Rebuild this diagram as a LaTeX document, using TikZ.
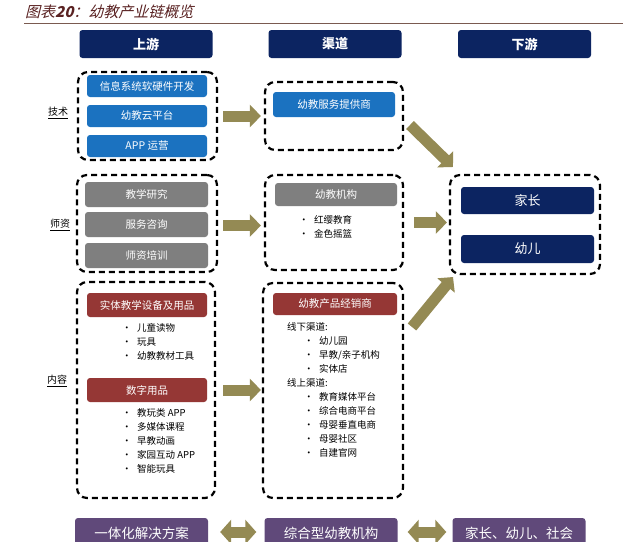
\documentclass[tikz,border=0pt]{standalone}
\usepackage{fontspec}
\setmainfont{Noto Sans CJK SC}
\newfontfamily\titlefont[FakeSlant=0.25]{Noto Sans CJK SC}
\usetikzlibrary{arrows.meta}
\definecolor{navy}{HTML}{0C2461}
\definecolor{bluebx}{HTML}{1B72C0}
\definecolor{graybx}{HTML}{7F7F7F}
\definecolor{redbx}{HTML}{953735}
\definecolor{purplebx}{HTML}{60497A}
\definecolor{olivec}{HTML}{948A54}
\definecolor{titlec}{HTML}{5A2222}
\definecolor{rulec}{HTML}{7A5A50}
\tikzset{
  box/.style={rounded corners=3pt, inner sep=0pt, text=white, font=\fontsize{10.5}{12}\selectfont},
  hdr/.style={box, fill=navy, minimum width=133pt, minimum height=28pt, font=\fontsize{13}{15}\selectfont\bfseries},
  bluebox/.style={box, fill=bluebx},
  graybox/.style={box, fill=graybx},
  redbox/.style={box, fill=redbx},
  navybox/.style={box, fill=navy, font=\fontsize{13}{15}\selectfont},
  purplebox/.style={box, fill=purplebx, minimum width=133pt, minimum height=30pt, font=\fontsize{13.5}{16}\selectfont},
  grp/.style={draw=black, line width=2.2pt, dash pattern=on 6pt off 4pt, rounded corners=10pt, inner sep=0pt},
  sidelabel/.style={font=\fontsize{10}{12}\selectfont, inner sep=0pt},
  blist/.style={anchor=north west, align=left, inner sep=0pt, font=\fontsize{9.5}{14}\selectfont},
  bigarrow/.style={draw=olivec, line width=11pt, -{Triangle[width=22pt,length=11pt]}},
  dblarrow/.style={draw=olivec, line width=11pt, {Triangle[width=24pt,length=11pt]}-{Triangle[width=24pt,length=11pt]}},
}
\newcommand{\bl}{\makebox[15pt][l]{\textbullet}}
\begin{document}
\begin{tikzpicture}[x=1pt,y=-1pt]
\useasboundingbox (0,0) rectangle (640,541);
\clip (0,0) rectangle (640,541);
\fill[white] (0,0) rectangle (640,541);
% title
\node[anchor=west, inner sep=0pt, text=titlec, font=\titlefont\fontsize{15}{17}\selectfont] (title) at (25,12) {图表\textbf{20}：幼教产业链概览};
\draw[rulec, line width=1pt] (24,23) -- (623,23);
% headers
\node[hdr] (h1) at (146,44) {上游};
\node[hdr] (h2) at (335,44) {渠道};
\node[hdr] (h3) at (524.5,44) {下游};
% left column: tech
\node[grp, minimum width=139pt, minimum height=88pt] (gtech) at (147.5,116) {};
\node[bluebox, minimum width=120pt, minimum height=22pt] (t1) at (147,86) {信息系统软硬件开发};
\node[bluebox, minimum width=120pt, minimum height=22pt] (t2) at (147,116) {幼教云平台};
\node[bluebox, minimum width=120pt, minimum height=22pt] (t3) at (147,146) {APP 运营};
\node[sidelabel] (ltech) at (58,113) {\underline{技术}};
% left column: teachers
\node[grp, minimum width=140pt, minimum height=97pt] (gteach) at (147,223.5) {};
\node[graybox, minimum width=123pt, minimum height=25pt] (s1) at (146.5,194.5) {教学研究};
\node[graybox, minimum width=123pt, minimum height=25pt] (s2) at (146.5,224.5) {服务咨询};
\node[graybox, minimum width=123pt, minimum height=25pt] (s3) at (146.5,255.5) {师资培训};
\node[sidelabel] (lteach) at (60,225) {\underline{师资}};
% left column: content
\node[grp, minimum width=138pt, minimum height=216pt] (gcont) at (146,390) {};
\node[redbox, minimum width=120pt, minimum height=24pt] (c1) at (147,305) {实体教学设备及用品};
\node[blist] (c1list) at (122,323) {\bl 儿童读物\\ \bl 玩具\\ \bl 幼教教材工具};
\node[redbox, minimum width=120pt, minimum height=24pt] (c2) at (147,390) {数字用品};
\node[blist] (c2list) at (122,408) {\bl 教玩类 APP\\ \bl 多媒体课程\\ \bl 早教动画\\ \bl 家园互动 APP\\ \bl 智能玩具};
\node[sidelabel] (lcont) at (57,381) {\underline{内容}};
% middle column
\node[grp, minimum width=138pt, minimum height=68pt] (mtech) at (334,116) {};
\node[bluebox, minimum width=122pt, minimum height=25pt] (m1) at (334,104.5) {幼教服务提供商};
\node[grp, minimum width=138pt, minimum height=95pt] (mteach) at (334,222.5) {};
\node[graybox, minimum width=122pt, minimum height=23pt] (m2) at (336,194.5) {幼教机构};
\node[blist] (m2list) at (299,215) {\bl 红缨教育\\ \bl 金色摇篮};
\node[grp, minimum width=140pt, minimum height=215pt] (mcont) at (333,390.5) {};
\node[redbox, minimum width=124pt, minimum height=22pt] (m3) at (335,304) {幼教产品经销商};
\node[blist] (m3list) at (287,322) {线下渠道:\\
  \hspace*{17pt}\bl 幼儿园\\
  \hspace*{17pt}\bl 早教/亲子机构\\
  \hspace*{17pt}\bl 实体店\\
  线上渠道:\\
  \hspace*{17pt}\bl 教育媒体平台\\
  \hspace*{17pt}\bl 综合电商平台\\
  \hspace*{17pt}\bl 母婴垂直电商\\
  \hspace*{17pt}\bl 母婴社区\\
  \hspace*{17pt}\bl 自建官网};
% right column
\node[grp, minimum width=150pt, minimum height=99pt] (right) at (525,224.5) {};
\node[navybox, minimum width=133pt, minimum height=27pt] (r1) at (527.5,200.5) {家长};
\node[navybox, minimum width=133pt, minimum height=28pt] (r2) at (527.5,249) {幼儿};
% arrows
\draw[bigarrow, shorten <=5pt, shorten >=3pt] (gtech.east) -- (gtech.east -| mtech.west);
\draw[bigarrow, shorten <=5pt, shorten >=3pt] ([yshift=-2pt]gteach.east) -- ([yshift=-2pt]gteach.east -| mteach.west);
\draw[bigarrow, shorten <=7pt, shorten >=1pt] (gcont.east) -- (gcont.east -| mcont.west);
\draw[bigarrow, shorten <=10pt, shorten >=2pt] (mteach.east) -- (mteach.east -| right.west);
\coordinate (d1s) at (410,125);
\coordinate (d1e) at (453,167);
\coordinate (d2s) at (412,327);
\coordinate (d2e) at (453,277);
\draw[bigarrow] (d1s) -- (d1e);
\draw[bigarrow] (d2s) -- (d2e);
% bottom row
\node[purplebox] (b1) at (141.5,533) {一体化解决方案};
\node[purplebox] (b2) at (331,533) {综合型幼教机构};
\node[purplebox] (b3) at (519,533) {家长、幼儿、社会};
\draw[dblarrow, shorten <=12pt, shorten >=8pt] ([yshift=1pt]b1.east) -- ([yshift=1pt]b2.west);
\draw[dblarrow, shorten <=10pt, shorten >=6pt] ([yshift=1pt]b2.east) -- ([yshift=1pt]b3.west);
\end{tikzpicture}
\end{document}
